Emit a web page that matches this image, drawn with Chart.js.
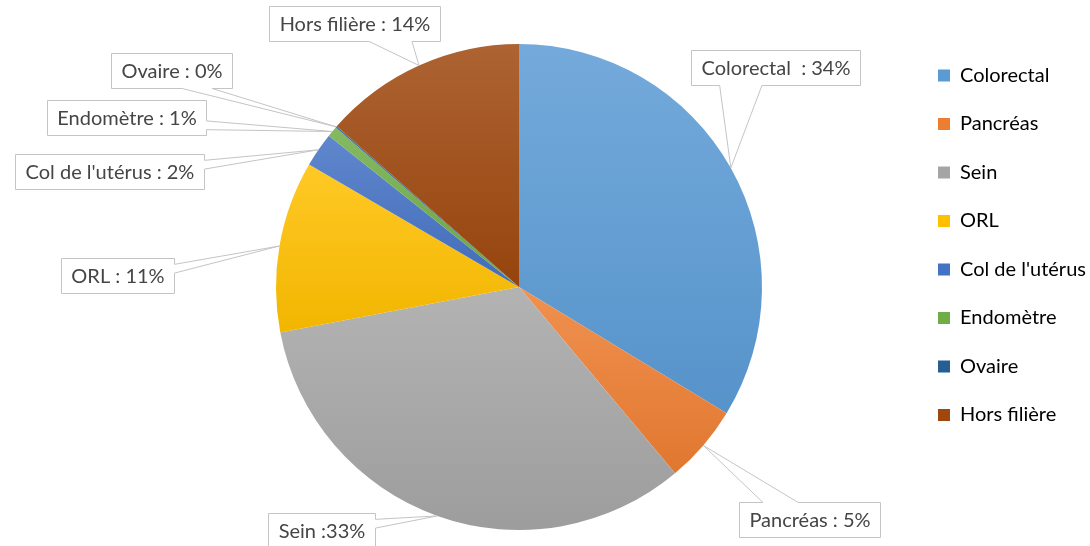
<!DOCTYPE html>
<html>
<head>
<meta charset="utf-8">
<script src="https://cdn.jsdelivr.net/npm/chart.js@4"></script>
<style>
  html, body { margin: 0; background: #fff; }
  canvas { display: block; }
</style>
</head>
<body>
<canvas id="pie-chart" width="1090" height="546"></canvas>
<script>
const categories = ['Colorectal', 'Pancréas', 'Sein', 'ORL', "Col de l'utérus", 'Endomètre', 'Ovaire', 'Hors filière'];
const shares = [33.7, 5.2, 33.1, 11.4, 2.3, 0.7, 0.1, 13.5];
const labelSeparators = ['  : ', ' : ', ' :', ' : ', ' : ', ' : ', ' : ', ' : '];
const sliceColors = ['#5b9bd5', '#ed7d31', '#a5a5a5', '#ffc000', '#4472c4', '#70ad47', '#255e91', '#9e480e'];
// centre of each callout box, relative to the pie centre
const calloutOffsets = [[256, -220], [290, 232], [-198, 243], [-402, -12], [-410, -116], [-393, -170], [-348, -217], [-165, -264]];

const FONT = '20px Lato';
const TEXT_COLOR = '#454545';

function mix(hex, target, t) {
    const n = parseInt(hex.slice(1), 16);
    const rgb = [n >> 16, (n >> 8) & 255, n & 255].map(c => Math.round(c + (target - c) * t));
    return `rgb(${rgb.join(',')})`;
}

// light-to-dark gradient over the vertical extent of one slice (office style)
function sliceFill(context) {
    const i = context.dataIndex;
    const chart = context.chart;
    const area = chart.chartArea;
    if (!area) return sliceColors[i];
    const cx = (area.left + area.right) / 2;
    const cy = (area.top + area.bottom) / 2;
    const r = context.dataset.radius;
    const total = shares.reduce((a, b) => a + b, 0);
    const before = shares.slice(0, i).reduce((a, b) => a + b, 0);
    const a0 = -Math.PI / 2 + 2 * Math.PI * before / total;
    const a1 = a0 + 2 * Math.PI * shares[i] / total;
    const ys = [cy, cy + r * Math.sin(a0), cy + r * Math.sin(a1)];
    if (a0 <= Math.PI / 2 && a1 >= Math.PI / 2) ys.push(cy + r);
    const g = chart.ctx.createLinearGradient(0, Math.min(...ys), 0, Math.max(...ys));
    g.addColorStop(0, mix(sliceColors[i], 255, 0.15));
    g.addColorStop(1, mix(sliceColors[i], 0, 0.05));
    return g;
}

const calloutPlugin = {
    id: 'callouts',
    afterDatasetsDraw(chart) {
        const ctx = chart.ctx;
        const arcs = chart.getDatasetMeta(0).data;
        ctx.save();
        ctx.font = FONT;
        ctx.textAlign = 'center';
        ctx.textBaseline = 'middle';
        arcs.forEach((arc, i) => {
            const mid = (arc.startAngle + arc.endAngle) / 2;
            const tip = [arc.x + arc.outerRadius * Math.cos(mid), arc.y + arc.outerRadius * Math.sin(mid)];
            const text = categories[i] + labelSeparators[i] + Math.round(shares[i]) + '%';
            const w = Math.round(ctx.measureText(text).width + 20);
            const h = 35;
            const cx = arc.x + calloutOffsets[i][0];
            const cy = arc.y + calloutOffsets[i][1];
            const l = Math.round(cx - w / 2) + 0.5, t = Math.round(cy - h / 2) + 0.5;
            const r = l + w, b = t + h;
            const dx = tip[0] - cx, dy = tip[1] - cy;
            const x1 = l + w * (dx > 0 ? 7 : 2) / 12, x2 = l + w * (dx > 0 ? 10 : 5) / 12;
            const y1 = t + h * (dy > 0 ? 7 : 2) / 12, y2 = t + h * (dy > 0 ? 10 : 5) / 12;
            const side = Math.abs(dx * h) > Math.abs(dy * w) ? (dx > 0 ? 'right' : 'left') : (dy > 0 ? 'bottom' : 'top');
            const pts = [[l, t]];
            if (side === 'top') pts.push([x1, t], tip, [x2, t]);
            pts.push([r, t]);
            if (side === 'right') pts.push([r, y1], tip, [r, y2]);
            pts.push([r, b]);
            if (side === 'bottom') pts.push([x2, b], tip, [x1, b]);
            pts.push([l, b]);
            if (side === 'left') pts.push([l, y2], tip, [l, y1]);
            ctx.beginPath();
            pts.forEach(([x, y], k) => k ? ctx.lineTo(x, y) : ctx.moveTo(x, y));
            ctx.closePath();
            ctx.fillStyle = '#fff';
            ctx.fill();
            ctx.strokeStyle = '#c4c4c4';
            ctx.lineWidth = 1;
            ctx.stroke();
            ctx.fillStyle = TEXT_COLOR;
            ctx.fillText(text, l + w / 2, t + h / 2 + 1);
        });
        ctx.restore();
    }
};

document.addEventListener('DOMContentLoaded', () => {
    const ctx = document.getElementById('pie-chart').getContext('2d');
    const pie = new Chart(ctx, {
        type: 'pie',
        data: {
            labels: categories,
            datasets: [{
                data: shares,
                backgroundColor: sliceFill,
                borderWidth: 0,
                radius: 243
            }]
        },
        options: {
            responsive: false,
            animation: false,
            events: [],
            layout: { padding: { left: 128.5, right: 0, top: 37, bottom: 9 } },
            plugins: {
                tooltip: { enabled: false },
                legend: {
                    position: 'right',
                    align: 'start',
                    maxWidth: 180.5,
                    labels: {
                        boxWidth: 12,
                        boxHeight: 12,
                        padding: 28.5,
                        color: TEXT_COLOR,
                        font: { family: 'Lato', size: 20 },
                        generateLabels: () => categories.map((name, i) => ({
                            text: name,
                            fillStyle: sliceColors[i],
                            strokeStyle: sliceColors[i],
                            lineWidth: 0,
                            hidden: false,
                            index: i
                        }))
                    }
                }
            }
        },
        plugins: [calloutPlugin]
    });
});
</script>
</body>
</html>
